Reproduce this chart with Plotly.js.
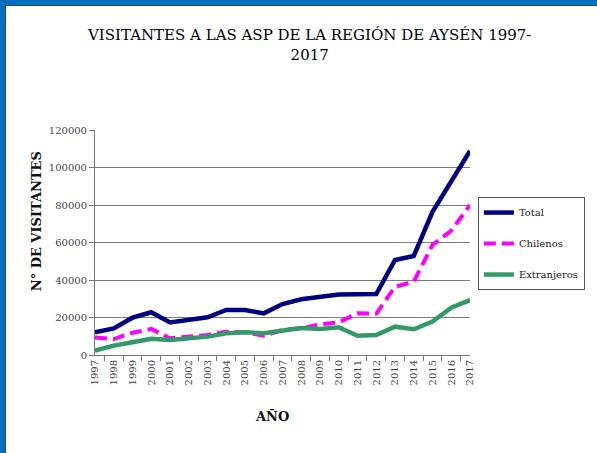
<!DOCTYPE html>
<html>
<head>
<meta charset="utf-8">
<script src="https://cdn.plot.ly/plotly-3.0.1.min.js"></script>
<style>
html,body{margin:0;padding:0;background:#fff;}
#wrap{position:relative;width:597px;height:453px;overflow:hidden;}
#chart{position:absolute;left:0;top:0;width:597px;height:453px;}
#bt{position:absolute;left:0;top:0;width:597px;height:5px;background:#0070C0;border-bottom:1px solid #2a4a6a;}
#bl{position:absolute;left:0;top:0;width:5px;height:453px;background:#0070C0;border-right:1px solid #2a4a6a;}
</style>
</head>
<body>
<div id="wrap">
<div id="chart"></div>
<div id="bt"></div>
<div id="bl"></div>
</div>
<script>
const years = ["1997","1998","1999","2000","2001","2002","2003","2004","2005","2006","2007","2008","2009","2010","2011","2012","2013","2014","2015","2016","2017"];
const total = [12100,14200,19900,22800,17400,18700,20100,24000,24000,22200,27200,29700,30800,32300,32400,32500,50700,52800,76400,92400,108800];
const chilenos = [9400,8500,11900,13900,8900,9800,10700,12400,12100,10300,13300,14200,16300,17400,22200,22000,36400,39100,58700,66300,80000];
const extranjeros = [2300,5000,6800,8700,8000,8900,9800,11600,12100,11600,13300,14400,13900,14800,10300,10700,15100,13700,17800,25200,29300];
const seriesNames = ["Total","Chilenos","Extranjeros"];
const yTicks = [0,20000,40000,60000,80000,100000,120000];
const gridTicks = [20000,40000,60000,80000,100000];
const titleText = "VISITANTES A LAS ASP DE LA REGIÓN DE AYSÉN 1997-<br>2017";
const yTitle = "N° DE VISITANTES";
const xTitle = "AÑO";

const serif = "'DejaVu Serif', 'Liberation Serif', serif";
const traces = [
  {x: years, y: total, name: seriesNames[0], type: "scatter", mode: "lines",
   line: {color: "#000080", width: 4.5}, legendgroup: "a"},
  {x: years, y: chilenos, name: seriesNames[1], type: "scatter", mode: "lines",
   line: {color: "#FF00FF", width: 4, dash: "12px,6px"}, legendgroup: "b"},
  {x: years, y: extranjeros, name: seriesNames[2], type: "scatter", mode: "lines",
   line: {color: "#339966", width: 4.5}, legendgroup: "c"},
  {x: years, y: total, yaxis: "y2", type: "scatter", mode: "none", showlegend: false, hoverinfo: "skip"}
];
const layout = {
  width: 597, height: 453,
  margin: {l: 95, r: 120, t: 130, b: 98},
  paper_bgcolor: "#fff", plot_bgcolor: "rgba(0,0,0,0)",
  font: {family: serif, color: "#333", size: 10},
  showlegend: true,
  legend: {x: 1.021, y: 0.702, xanchor: "left", yanchor: "top",
    bordercolor: "#555", borderwidth: 1, bgcolor: "#fff",
    font: {family: serif, size: 10, color: "#222"},
    tracegroupgap: 12, itemwidth: 30},
  xaxis: {type: "category", tickangle: -90, showline: true, linecolor: "#777", linewidth: 1,
    ticks: "outside", ticklen: 5, tickcolor: "#777", tickson: "boundaries",
    showgrid: false, tickfont: {family: serif, size: 10, color: "#444"}},
  yaxis: {range: [0, 120000], tickvals: yTicks, tickformat: "d", showgrid: false, zeroline: false,
    showline: true, linecolor: "#777", linewidth: 1, ticks: "outside", ticklen: 5, tickcolor: "#777",
    tickfont: {family: serif, size: 10, color: "#444"}},
  yaxis2: {range: [0, 120000], overlaying: "y", tickvals: gridTicks, showticklabels: false,
    showgrid: true, gridcolor: "#7a7a7a", gridwidth: 1, zeroline: false, showline: false, ticks: "", layer: "below traces"},
  annotations: [
    {text: titleText, xref: "paper", yref: "paper", x: 0.571, y: 1.38, xanchor: "center", yanchor: "middle",
     showarrow: false, font: {family: serif, size: 15, color: "#000"}},
    {text: "<b>" + yTitle + "</b>", xref: "paper", yref: "paper", x: -0.157, y: 0.595, xanchor: "center", yanchor: "middle",
     textangle: -90, showarrow: false, font: {family: serif, size: 13, color: "#111"}},
    {text: "<b>" + xTitle + "</b>", xref: "paper", yref: "paper", x: 0.471, y: -0.272, xanchor: "center", yanchor: "middle",
     showarrow: false, font: {family: serif, size: 13, color: "#111"}}
  ]
};
Plotly.newPlot("chart", traces, layout, {displayModeBar: false, staticPlot: true});
</script>
</body>
</html>
